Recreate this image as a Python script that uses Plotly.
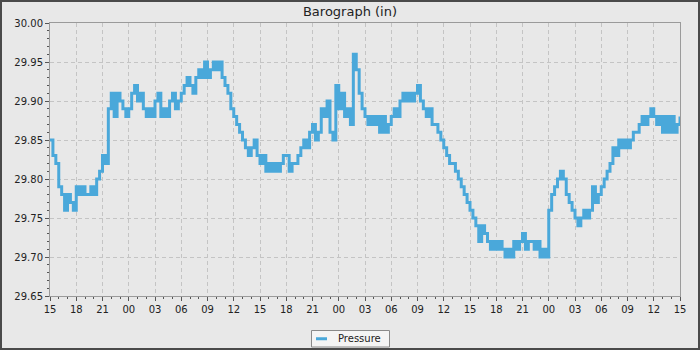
import pandas as pd
import plotly.graph_objects as go

# 20-minute barometer readings (inHg), starting 15:00 on day 1
day1 = [
    29.85, 29.83, 29.82, 29.79, 29.78, 29.76, 29.78, 29.77, 29.76,
    29.79, 29.78, 29.79, 29.78, 29.78, 29.79, 29.78, 29.80, 29.81,
    29.83, 29.82, 29.89, 29.91, 29.88, 29.91, 29.90, 29.89, 29.88,
    29.89, 29.91, 29.92, 29.90, 29.91, 29.89, 29.88, 29.89, 29.88,
    29.90, 29.91, 29.88, 29.89, 29.88, 29.90, 29.91, 29.89, 29.90,
    29.91, 29.92, 29.93, 29.92, 29.91, 29.93, 29.94, 29.93, 29.95,
    29.93, 29.94, 29.95, 29.94, 29.95, 29.93, 29.92, 29.91, 29.89,
    29.88, 29.87, 29.86, 29.85, 29.84, 29.83, 29.84, 29.85, 29.83,
]
day2 = [
    29.82, 29.83, 29.81, 29.82, 29.81, 29.82, 29.81, 29.82, 29.83,
    29.83, 29.81, 29.82, 29.82, 29.83, 29.84, 29.85, 29.84, 29.86,
    29.87, 29.85, 29.86, 29.89, 29.88, 29.90, 29.86, 29.85, 29.92,
    29.89, 29.91, 29.88, 29.89, 29.87, 29.96, 29.94, 29.91, 29.89,
    29.88, 29.87, 29.88, 29.87, 29.88, 29.86, 29.88, 29.86, 29.87,
    29.88, 29.89, 29.88, 29.90, 29.91, 29.90, 29.91, 29.90, 29.91,
    29.92, 29.90, 29.89, 29.88, 29.89, 29.87, 29.87, 29.86, 29.85,
    29.84, 29.83, 29.82, 29.82, 29.81, 29.80, 29.79, 29.78, 29.77,
]
day3 = [
    29.76, 29.75, 29.74, 29.72, 29.74, 29.73, 29.72, 29.71, 29.72,
    29.71, 29.72, 29.71, 29.70, 29.71, 29.70, 29.72, 29.71, 29.72,
    29.73, 29.71, 29.72, 29.72, 29.71, 29.72, 29.70, 29.71, 29.70,
    29.76, 29.78, 29.79, 29.80, 29.81, 29.80, 29.78, 29.77, 29.76,
    29.75, 29.74, 29.75, 29.76, 29.75, 29.76, 29.79, 29.77, 29.78,
    29.79, 29.80, 29.81, 29.82, 29.84, 29.83, 29.85, 29.84, 29.85,
    29.84, 29.85, 29.86, 29.86, 29.87, 29.88, 29.87, 29.88, 29.89,
    29.88, 29.87, 29.88, 29.86, 29.88, 29.86, 29.88, 29.86, 29.87,
]
final_reading = [29.88]

pressure = day1 + day2 + day3 + final_reading
times = pd.date_range("2024-03-01 15:00", periods=len(pressure), freq="20min")

title_text = "Barograph (in)"
series_name = "Pressure"

W, H = 700, 350
ML, MR, MT, MB = 50, 20, 23, 54
PW, PH = W - ML - MR, H - MT - MB

BG = "#e8e8e8"
LINE = "#4aa8da"
FONT = "DejaVu Sans, Verdana, sans-serif"

fig = go.Figure()
fig.add_trace(go.Scatter(
    x=times, y=pressure, mode="lines", name=series_name,
    line=dict(color=LINE, width=3, shape="hv"), showlegend=False,
))

axis_common = dict(
    showline=True, linecolor="#9a9a9a", linewidth=1, mirror=True,
    ticks="outside", ticklen=4, tickcolor="#555555", tickwidth=1,
    showgrid=True, gridcolor="#c4c4c4", gridwidth=1, griddash="4px,3px",
    zeroline=False,
    tickfont=dict(family=FONT, size=10, color="#222222"),
)

fig.update_xaxes(
    type="date",
    range=[times[0], times[-1]],
    dtick=3 * 3600 * 1000, tick0=times[0], tickformat="%H",
    minor=dict(dtick=3600 * 1000, ticklen=2, tickcolor="#555555", ticks="outside", showgrid=False),
    **axis_common,
)
fig.update_yaxes(
    range=[29.65, 30.00], dtick=0.05, tick0=29.65, tickformat=".2f",
    minor=dict(dtick=0.01, ticklen=2, tickcolor="#555555", ticks="outside", showgrid=False),
    **axis_common,
)

def px_x(x):
    return (x - ML) / PW

def px_y(y):
    return (H - MB - y) / PH

# legend box (drawn as shapes + text to match the compact original legend)
LEG_L, LEG_R, LEG_T, LEG_B = 311.5, 389.5, 330.5, 347.0
LEG_MID = (LEG_T + LEG_B) / 2

fig.update_layout(
    width=W, height=H,
    margin=dict(l=ML, r=MR, t=MT, b=MB, pad=0, autoexpand=False),
    paper_bgcolor=BG, plot_bgcolor=BG,
    title=dict(text=title_text, x=0.5, xanchor="center", y=1 - 11 / H, yanchor="middle",
               yref="container", font=dict(family=FONT, size=13, color="#222222")),
    showlegend=False,
    shapes=[
        dict(type="rect", xref="paper", yref="paper",
             x0=px_x(LEG_L), x1=px_x(LEG_R), y0=px_y(LEG_B), y1=px_y(LEG_T),
             line=dict(color="#8a8a8a", width=1), fillcolor="#f4f4f4", layer="above"),
        dict(type="line", xref="paper", yref="paper",
             x0=px_x(316), x1=px_x(327), y0=px_y(LEG_MID), y1=px_y(LEG_MID),
             line=dict(color=LINE, width=3), layer="above"),
        dict(type="rect", xref="paper", yref="paper",
             x0=px_x(0), x1=px_x(W), y0=px_y(H), y1=px_y(0),
             line=dict(color="#4a4a4a", width=4), fillcolor="rgba(0,0,0,0)", layer="above"),
    ],
    annotations=[dict(
        text=series_name, xref="paper", yref="paper",
        x=px_x(336), y=px_y(LEG_MID), xanchor="left", yanchor="middle",
        showarrow=False, font=dict(family=FONT, size=10, color="#222222"),
    )],
)

fig.write_html("out.html")
